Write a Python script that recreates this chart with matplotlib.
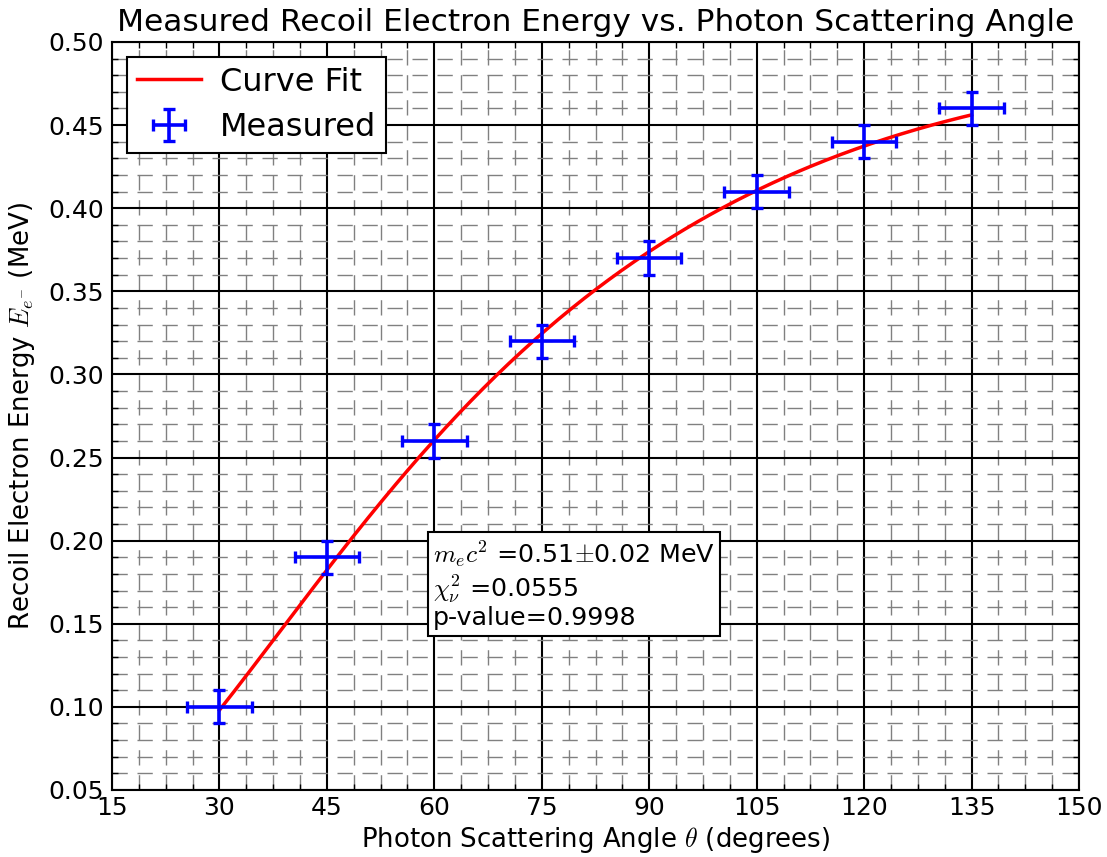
import numpy as np
import matplotlib
matplotlib.use("Agg")
import matplotlib.pyplot as plt
from matplotlib.ticker import MultipleLocator, FormatStrFormatter

plt.rcParams['mathtext.fontset'] = 'cm'

# measured data
angle = [30, 45, 60, 75, 90, 105, 120, 135]
energy = [0.10, 0.19, 0.26, 0.32, 0.37, 0.41, 0.44, 0.46]
angle_err = [4.5] * 8
energy_err = [0.01] * 8

# fit parameters (Compton)
E_gamma = 0.662
mec2 = 0.51
fit_start, fit_stop = 30, 135

theta = np.linspace(fit_start, fit_stop, 300)
E_scat = E_gamma / (1 + (E_gamma / mec2) * (1 - np.cos(np.radians(theta))))
E_fit = E_gamma - E_scat

fig = plt.figure(figsize=(11.07, 8.57), dpi=100)
ax = fig.add_axes([0.1012, 0.0782, 0.8735, 0.8728])

ax.plot(theta, E_fit, color='red', lw=2.5, label='Curve Fit', zorder=3)
ax.errorbar(angle, energy, xerr=angle_err, yerr=energy_err, fmt='none',
            ecolor='blue', elinewidth=2.6, capsize=4.5, capthick=2.4,
            label='Measured', zorder=4)

ax.set_xlim(15, 150)
ax.set_ylim(0.05, 0.50)
ax.xaxis.set_major_locator(MultipleLocator(15))
ax.xaxis.set_minor_locator(MultipleLocator(3.75))
ax.yaxis.set_major_locator(MultipleLocator(0.05))
ax.yaxis.set_minor_locator(MultipleLocator(0.01))
ax.yaxis.set_major_formatter(FormatStrFormatter('%.2f'))

ax.grid(which='major', color='black', linestyle='-', linewidth=1.5)
ax.grid(which='minor', color='gray', linestyle='--', linewidth=1, dashes=(11, 7))
ax.set_axisbelow(True)

ax.tick_params(which='both', direction='in', top=True, right=True, labelsize=18)
ax.tick_params(which='major', length=8, width=1.2)
ax.tick_params(which='minor', length=4, width=1)
ax.tick_params(axis='x', which='major', pad=4)
ax.tick_params(axis='y', which='major', pad=6)
for s in ax.spines.values():
    s.set_linewidth(1.5)

ax.set_title('Measured Recoil Electron Energy vs. Photon Scattering Angle', fontsize=22.5, pad=8)
ax.set_xlabel(r'Photon Scattering Angle $\theta$ (degrees)', fontsize=18.7, labelpad=4)
ax.set_ylabel(r'Recoil Electron Energy $E_{e^{-}}$ (MeV)', fontsize=18.7, labelpad=8)

leg = ax.legend(loc='upper left', fontsize=23, handlelength=2.0, handletextpad=0.6,
                labelspacing=0.45, borderpad=0.3, fancybox=False,
                framealpha=1, borderaxespad=0.47)
leg.get_frame().set_edgecolor('black')
leg.get_frame().set_linewidth(1.5)

ax.text(0.332, 0.336, '$m_ec^2$ =0.51$\\pm$0.02 MeV\n$\\chi^2_\\nu$ =0.0555\np-value=0.9998',
        transform=ax.transAxes, fontsize=18.3, va='top', ha='left', linespacing=1.1,
        bbox=dict(boxstyle='square,pad=0.2', facecolor='white', edgecolor='black', linewidth=1.5),
        zorder=5)

fig.savefig('out.png', dpi=100)
